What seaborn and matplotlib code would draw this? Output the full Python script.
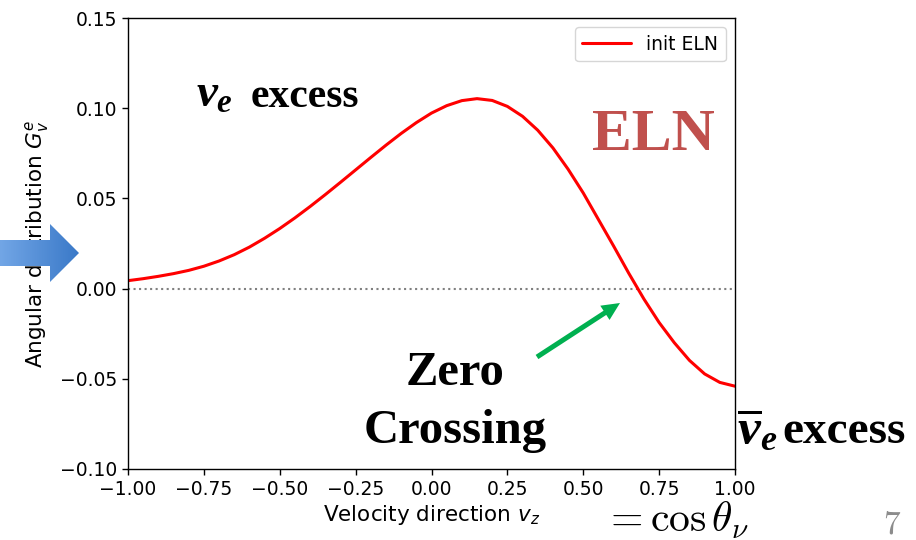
import numpy as np
import pandas as pd
import matplotlib
matplotlib.use("Agg")
import matplotlib.pyplot as plt
from matplotlib.patches import Polygon, FancyArrow
from matplotlib.colors import LinearSegmentedColormap
import seaborn as sns

# Electron-lepton-number angular distribution sampled along v_z
velocity = [-1.00, -0.95, -0.90, -0.85, -0.80, -0.75, -0.70, -0.65, -0.60, -0.55,
            -0.50, -0.45, -0.40, -0.35, -0.30, -0.25, -0.20, -0.15, -0.10, -0.05,
            0.00, 0.05, 0.10, 0.15, 0.20, 0.25, 0.30, 0.35, 0.40, 0.45,
            0.50, 0.55, 0.60, 0.65, 0.70, 0.75, 0.80, 0.85, 0.90, 0.95, 1.00]
eln = [0.0044, 0.0055, 0.0068, 0.0083, 0.0101, 0.0124, 0.0153, 0.0188, 0.0230, 0.0279,
       0.0333, 0.0392, 0.0455, 0.0521, 0.0589, 0.0658, 0.0727, 0.0795, 0.0860, 0.0920,
       0.0973, 0.1014, 0.1042, 0.1053, 0.1043, 0.1010, 0.0955, 0.0878, 0.0780, 0.0662,
       0.0530, 0.0383, 0.0236, 0.0085, -0.0058, -0.0188, -0.0300, -0.0398, -0.0473, -0.0520, -0.0541]
series_label = "init ELN"
xticks = [-1.00, -0.75, -0.50, -0.25, 0.00, 0.25, 0.50, 0.75, 1.00]
yticks = [-0.10, -0.05, 0.00, 0.05, 0.10, 0.15]

sns.set_style("ticks")
plt.rcParams.update({
    "font.family": ["DejaVu Sans"],
    "text.color": "black",
    "axes.labelcolor": "black",
    "axes.edgecolor": "black",
    "xtick.color": "black",
    "ytick.color": "black",
    "xtick.major.size": 4.5,
    "ytick.major.size": 4.5,
    "xtick.major.width": 1.0,
    "ytick.major.width": 1.0,
    "axes.linewidth": 1.0,
    "mathtext.it": "Liberation Serif:italic:bold",
    "mathtext.rm": "Liberation Serif:bold",
    "mathtext.bf": "Liberation Serif:bold",
})

W, H = 916, 540
fig = plt.figure(figsize=(W / 100, H / 100), dpi=100)
left, right, top, bottom = 128, 735, 18, 469
ax = fig.add_axes([left / W, 1 - bottom / H, (right - left) / W, (bottom - top) / H])

df = pd.DataFrame({"v": velocity, "G": eln})
sns.lineplot(data=df, x="v", y="G", ax=ax, color="red", lw=2.2, label=series_label,
             solid_joinstyle="round", solid_capstyle="round")
ax.axhline(0.0, ls=":", color="gray", lw=1.5, zorder=0)

ax.set_xlim(-1.0, 1.0)
ax.set_ylim(-0.10, 0.15)
ax.set_xticks(xticks)
ax.set_yticks(yticks)
ax.set_xticklabels([f"{t:.2f}".replace("-", "\u2212") for t in xticks])
ax.set_yticklabels([f"{t:.2f}".replace("-", "\u2212") for t in yticks])
ax.tick_params(labelsize=13.5)
ax.set_xlabel(r"Velocity direction $v_z$", fontsize=15.5, labelpad=3)
ax.set_ylabel(r"Angular distribution $G_v^e$", fontsize=15.5, labelpad=6)
for s in ax.spines.values():
    s.set_visible(True)
ax.legend(loc="upper right", fontsize=13.5, handlelength=2.6)

# Overlay in pixel units for annotations
ov = fig.add_axes([0, 0, 1, 1], zorder=5)
ov.axis("off")
ov.set_facecolor("none")

# Blue pointer arrow on the left
arrow_pts = [(0, 240), (50, 240), (50, 224), (79, 253), (50, 282), (50, 266), (0, 266)]
poly = Polygon(arrow_pts, closed=True, facecolor="none", edgecolor="none")
ov.add_patch(poly)
grad = np.linspace(0, 1, 256).reshape(1, -1)
bcmap = LinearSegmentedColormap.from_list("blu", ["#72a6e6", "#3a79c8"])
im = ov.imshow(grad, extent=(0, 79, 282, 224), cmap=bcmap, aspect="auto", zorder=6)
im.set_clip_path(poly)
ov.set_xlim(0, W)
ov.set_ylim(H, 0)

# Green arrow toward the zero crossing
ov.add_patch(FancyArrow(537, 357, 620 - 537, 303 - 357, width=5, head_width=17,
                        head_length=18, length_includes_head=True,
                        color="#00b050", lw=0, zorder=7))

serif = ["Liberation Serif", "DejaVu Serif"]
ov.text(196, 107, r"$\nu_e$", fontsize=34, fontweight="bold", family=serif,
        math_fontfamily="custom", ha="left", va="baseline", zorder=8)
ov.text(251, 107, "excess", fontsize=30, fontweight="bold", family=serif,
        ha="left", va="baseline", zorder=8)
ov.text(737, 443, r"$\overline{\nu}_e$", fontsize=37, fontweight="bold", family=serif,
        math_fontfamily="custom", ha="left", va="baseline", zorder=8)
ov.text(782, 443, "excess", fontsize=34, fontweight="bold", family=serif,
        ha="left", va="baseline", zorder=8)
ov.text(653, 150, "ELN", fontsize=43, fontweight="bold", family=serif,
        color="#c0504d", ha="center", va="baseline", zorder=8)
ov.text(455, 385, "Zero", fontsize=35, fontweight="bold", family=serif,
        ha="center", va="baseline", zorder=8)
ov.text(455, 443, "Crossing", fontsize=35, fontweight="bold", family=serif,
        ha="center", va="baseline", zorder=8)
ov.text(603, 532, r"$=\cos\theta_\nu$", fontsize=30, math_fontfamily="cm",
        ha="left", va="baseline", zorder=8)
ov.text(883, 533, r"$7$", fontsize=24, math_fontfamily="cm", color="#8c8c8c",
        ha="left", va="baseline", zorder=8)

fig.savefig("out.png", dpi=100)
